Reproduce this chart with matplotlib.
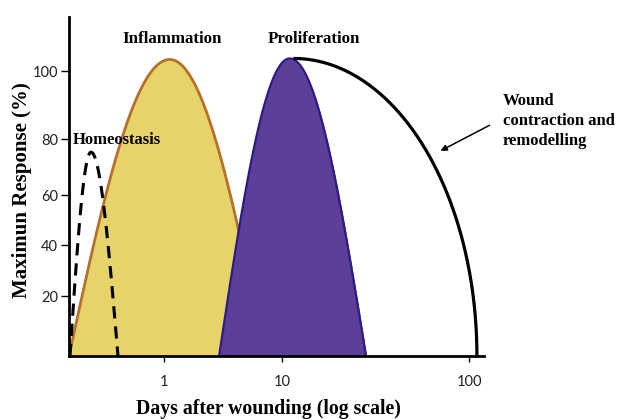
import numpy as np
import matplotlib.pyplot as plt

# phase curves: (start day, peak day, end day, peak response %)
homeostasis = (0.160, 0.241, 0.408, 75.4)
inflammation = (0.157, 1.12, 7.2, 103.5)
proliferation = (2.93, 11.0, 28.1, 103.8)
# remodelling: (start day, end day, response %)
remodelling = (11.5, 110.0, 103.8)

x_ticks = [1, 10, 100]
y_ticks = [20, 40, 60, 80, 100]

# the original axes are schematic: uneven spacing between ticks
x_knots = [-1, 0, 1, 2, 3]          # log10(days)
x_pos = [46, 164, 282, 469, 656]
y_knots = [0, 20, 40, 60, 80, 100, 120]
y_pos = [0, 60, 111, 161, 217, 285, 353]


def fx(d):
    d = np.clip(np.asarray(d, dtype=float), 1e-6, None)
    return np.interp(np.log10(d), x_knots, x_pos)


def ix(u):
    return 10 ** np.interp(u, x_pos, x_knots)


def fy(v):
    return np.interp(v, y_knots, y_pos)


def iy(p):
    return np.interp(p, y_pos, y_knots)


def hump(start, peak, end, h, n=200):
    u0, up, u1 = fx(start), fx(peak), fx(end)
    hv = fy(h)
    ul = np.linspace(u0, up, n)
    ur = np.linspace(up, u1, n)
    vl = hv * np.sin(np.pi / 2 * (ul - u0) / (up - u0))
    vr = hv * np.sin(np.pi / 2 * (u1 - ur) / (u1 - up))
    u = np.concatenate([ul, ur[1:]])
    v = np.concatenate([vl, vr[1:]])
    return ix(u), iy(v)


def quarter(start, end, h, n=300):
    u0, u1 = fx(start), fx(end)
    hv = fy(h)
    t = np.linspace(0, np.pi / 2, n)
    u = u0 + (u1 - u0) * np.sin(t)
    v = hv * np.cos(t)
    return ix(u), iy(v)


fig = plt.figure(figsize=(6.18, 4.19), dpi=100)
ax = fig.add_axes([69 / 618, 63 / 419, 415 / 618, 339 / 419])
ax.set_xscale('function', functions=(fx, ix))
ax.set_yscale('function', functions=(fy, iy))

serif = 'Liberation Serif'

# remodelling (white area, black outline)
rx, ry = quarter(*remodelling)
ax.fill_between(rx, ry, color='white', zorder=1)
ax.plot(rx, ry, color='black', lw=2.3, zorder=5, solid_capstyle='butt')

# inflammation
ixs, iys = hump(*inflammation)
ax.fill_between(ixs, iys, color='#E6D36A', zorder=2)
ax.plot(ixs, iys, color='#B5702C', lw=2.0, zorder=3)

# proliferation
px, py = hump(*proliferation)
ax.fill_between(px, py, color='#5C4098', zorder=4)
ax.plot(px, py, color='#2D1C88', lw=1.6, zorder=4)

# homeostasis
hx, hy = hump(*homeostasis)
ax.plot(hx, hy, color='black', lw=2.2, ls=(0, (4, 2.6)), zorder=6)

ax.set_xlim(0.157, 120)
ax.set_ylim(0, 116)
ax.set_xticks(x_ticks)
ax.set_xticklabels([str(t) for t in x_ticks])
ax.set_yticks(y_ticks)
ax.set_yticklabels([str(t) for t in y_ticks])
ax.minorticks_off()

for s in ['top', 'right']:
    ax.spines[s].set_visible(False)
for s in ['left', 'bottom']:
    ax.spines[s].set_linewidth(2.0)
    ax.spines[s].set_zorder(7)

ax.tick_params(axis='y', direction='out', length=6, width=1.0, pad=2,
               labelsize=10.5, colors='black')
ax.tick_params(axis='x', direction='out', length=4, width=1.0, pad=10,
               labelsize=10.5, colors='black')
for lab in ax.get_xticklabels() + ax.get_yticklabels():
    lab.set_family('Lato')
    lab.set_color('#222222')

# phase labels
ax.text(1.18, 109.5, 'Inflammation', ha='center', va='center',
        family=serif, weight='bold', fontsize=12.2)
ax.text(14.8, 109.5, 'Proliferation', ha='center', va='center',
        family=serif, weight='bold', fontsize=12.2)
ax.text(0.169, 79.6, 'Homeostasis', ha='left', va='center',
        family=serif, weight='bold', fontsize=12, zorder=8)

ax.annotate('', xy=(68.2, 75.4), xytext=(492, 419 - 124),
            textcoords='figure pixels',
            arrowprops=dict(arrowstyle='-|>', color='black', lw=1.1,
                            mutation_scale=9))
fig.text(503 / 618, 1 - 121 / 419, 'Wound\ncontraction and\nremodelling',
         ha='left', va='center', family=serif, weight='bold',
         fontsize=12, linespacing=1.33)

fig.text(22 / 618, 1 - 190 / 419, 'Maximun Response (%)', rotation=90,
         ha='center', va='center', family=serif, weight='bold', fontsize=15)
fig.text(268 / 618, 1 - 409 / 419, 'Days after wounding (log scale)',
         ha='center', va='center', family=serif, weight='bold', fontsize=14.2)

fig.savefig('out.png', dpi=100)
